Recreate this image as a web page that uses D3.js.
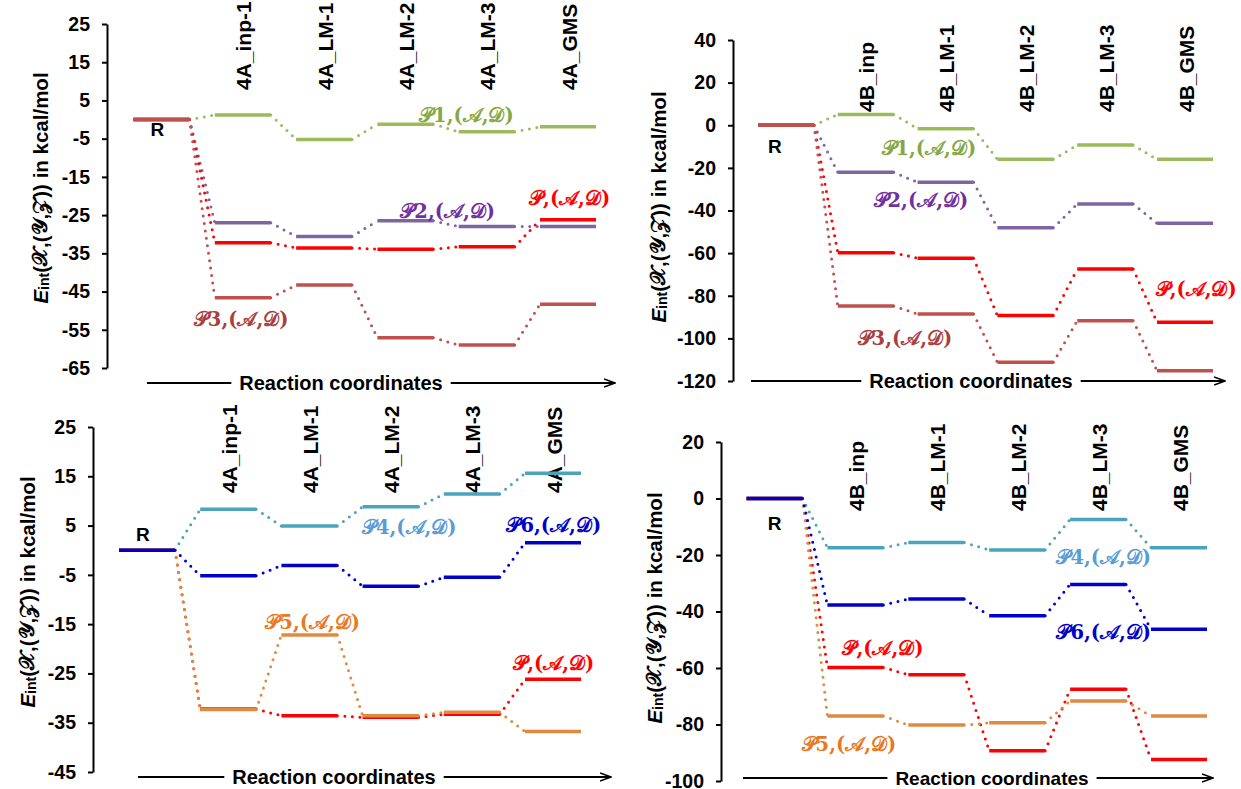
<!DOCTYPE html>
<html>
<head>
<meta charset="utf-8">
<script src="https://cdn.jsdelivr.net/npm/d3@7"></script>
<style>
  body { margin: 0; background: #fff; }
  text { font-family: "Liberation Sans", Arial, sans-serif; }
</style>
</head>
<body>
<div id="viz"></div>
<script>
// Energy level diagrams, four panels

// categories along the reaction coordinate (R is the reference level at 0)
const cats4A = ["4A_inp-1", "4A_LM-1", "4A_LM-2", "4A_LM-3", "4A_GMS"];
const cats4B = ["4B_inp", "4B_LM-1", "4B_LM-2", "4B_LM-3", "4B_GMS"];

// y tick values
const ticksTopA = [25, 15, 5, -5, -15, -25, -35, -45, -55, -65];
const ticksTopB = [40, 20, 0, -20, -40, -60, -80, -100, -120];
const ticksBotA = [25, 15, 5, -5, -15, -25, -35, -45];
const ticksBotB = [20, 0, -20, -40, -60, -80, -100];

// E_int values (kcal/mol), one per category
const p1_4A = [1.2, -5.2, -1.2, -3.2, -1.9];
const p2_4A = [-27.0, -30.6, -26.5, -28.0, -28.0];
const p_4A  = [-32.2, -33.6, -33.9, -33.3, -26.2];
const p3_4A = [-46.6, -43.3, -57.1, -59.0, -48.3];
const p4_4A = [8.3, 4.9, 8.8, 11.4, 15.6];
const p5_4A = [-32.3, -17.2, -33.6, -32.9, -36.8];
const p6_4A = [-5.2, -3.1, -7.3, -5.5, 1.5];

const p1_4B = [5.1, -1.6, -16.0, -9.3, -16.0];
const p2_4B = [-22.1, -26.8, -48.1, -37.0, -46.0];
const p_4B  = [-59.8, -62.4, -89.3, -67.5, -92.4];
const p3_4B = [-84.8, -88.6, -111.2, -91.7, -115.2];
const p4_4B = [-17.4, -15.6, -18.2, -7.4, -17.4];
const p5_4B = [-77.0, -80.2, -79.4, -71.7, -77.0];
const p6_4B = [-37.7, -35.6, -41.5, -30.4, -46.3];

// series names
const nP  = "P";
const nP1 = "P1";
const nP2 = "P2";
const nP3 = "P3";
const nP4 = "P4";
const nP5 = "P5";
const nP6 = "P6";

// colours: [line, label]
const colors = {
    P1: ["#9BBB59", "#84A845"],
    P2: ["#8064A2", "#7030A0"],
    P:  ["#FF0000", "#FF0000"],
    P3: ["#C0504D", "#A8403D"],
    P4: ["#4BA3BC", "#5B9BD5"],
    P5: ["#DE8A40", "#E8791E"],
    P6: ["#0000CC", "#0000CC"]
};

// panel layout
const panels = [
    { cats: cats4A, ticks: ticksTopA, axisX: 107, yRange: [368, 24], xRange: [161.5, 568], catY: 90,
      titleX: 40, titleY: 188, arrowY: 383, arrowX: [147, 615], rcX: 341, rcSize: 20, rY: [-0.05, -2.7],
      series: [[nP1, p1_4A, 3.75, 1.2], [nP2, p2_4A, 3.52, -23.9], [nP, p_4A, 5.02, -20.5], [nP3, p3_4A, 0.98, -52.2]] },
    { cats: cats4B, ticks: ticksTopB, axisX: 733, yRange: [381, 40], xRange: [786, 1185], catY: 112,
      titleX: 658, titleY: 207, arrowY: 381, arrowX: [751, 1225], rcX: 971, rcSize: 20, rY: [-0.14, -10.2],
      series: [[nP1, p1_4B, 1.79, -10.7], [nP2, p2_4B, 1.69, -35.1], [nP, p_4B, 5.14, -76.8], [nP3, p3_4B, 1.49, -99.8]] },
    { cats: cats4A, ticks: ticksBotA, axisX: 93, yRange: [772, 427], xRange: [147, 553], catY: 493,
      titleX: 27, titleY: 592, arrowY: 777, arrowX: [138, 611], rcX: 334, rcSize: 20, rY: [-0.05, 3.1],
      series: [[nP4, p4_4A, 3.23, 4.7], [nP, p_4A, 5.01, -22.9], [nP5, p5_4A, 2.04, -14.6], [nP6, p6_4A, 5.01, 5.1]] },
    { cats: cats4B, ticks: ticksBotB, axisX: 721, yRange: [781, 442], xRange: [774.5, 1179], catY: 511,
      titleX: 654, titleY: 608, arrowY: 778, arrowX: [743, 1213], rcX: 992, rcSize: 19, rY: [0, -9],
      series: [[nP4, p4_4B, 4.07, -20.7], [nP, p_4B, 1.34, -52.9], [nP5, p5_4B, 0.92, -86.9], [nP6, p6_4B, 4.07, -47.3]] }
];

const halfBar = 28;

const svg = d3.select("#viz")
    .append("svg")
    .attr("width", 1241)
    .attr("height", 789)
    .style("display", "block");

// arrow head marker
svg.append("defs").append("marker")
    .attr("id", "arrow")
    .attr("viewBox", "0 0 12 10")
    .attr("refX", 11).attr("refY", 5)
    .attr("markerWidth", 12).attr("markerHeight", 10)
    .attr("markerUnits", "userSpaceOnUse")
    .attr("orient", "auto")
    .append("path")
    .attr("d", "M0,1 L11,5 L0,9")
    .attr("fill", "none")
    .attr("stroke", "#000")
    .attr("stroke-width", 1.6);

function scriptLabel(g, name, color) {
    // e.g. P1,(A,D) with script letters
    const t = g.append("text")
        .attr("text-anchor", "middle")
        .attr("dominant-baseline", "central")
        .attr("font-size", 19.5)
        .attr("font-weight", "bold")
        .attr("fill", color)
        .style("font-family", "'DejaVu Serif', 'DejaVu Sans', serif");
    t.append("tspan").text("\u{1D4AB}");
    t.append("tspan").text(name.slice(1) + ",(");
    t.append("tspan").text("\u{1D49C}");
    t.append("tspan").text(",");
    t.append("tspan").text("\u{1D49F}");
    t.append("tspan").text(")");
    return t;
}

panels.forEach(p => {
    const g = svg.append("g");
    const x = d3.scaleLinear().domain([0, 5]).range(p.xRange);
    const y = d3.scaleLinear().domain([p.ticks[p.ticks.length - 1], p.ticks[0]]).range(p.yRange);

    // y axis
    const ax = g.append("g")
        .attr("transform", `translate(${p.axisX},0)`)
        .call(d3.axisLeft(y).tickValues(p.ticks).tickSize(5).tickSizeOuter(0).tickPadding(12)
            .tickFormat(d => String(d)));
    ax.select(".domain").attr("stroke-width", 2);
    ax.selectAll(".tick line").attr("stroke-width", 2);
    ax.selectAll(".tick text")
        .attr("font-size", 19.5)
        .attr("font-weight", "bold")
        .attr("fill", "#000")
        .style("font-family", "'Liberation Sans', Arial, sans-serif");

    // y title
    const title = g.append("text")
        .attr("transform", `translate(${p.titleX},${p.titleY}) rotate(-90)`)
        .attr("text-anchor", "middle")
        .attr("dominant-baseline", "central")
        .attr("font-size", 20.5)
        .attr("font-weight", "bold");
    title.append("tspan").attr("font-style", "italic").text("E");
    title.append("tspan").attr("font-size", 14).attr("dy", 4).text("int");
    title.append("tspan").attr("dy", -4).text("(");
    title.append("tspan").style("font-family", "'DejaVu Serif', serif").text("\u{1D4B3}");
    title.append("tspan").text(",(");
    title.append("tspan").style("font-family", "'DejaVu Serif', serif").text("\u{1D4B4}");
    title.append("tspan").text(",");
    title.append("tspan").style("font-family", "'DejaVu Serif', serif").text("\u{1D4B5}");
    title.append("tspan").text(")) in kcal/mol");

    // category labels (rotated)
    p.cats.forEach((c, i) => {
        g.append("text")
            .attr("transform", `translate(${x(i + 1) + 1},${p.catY}) rotate(-90)`)
            .attr("dominant-baseline", "central")
            .attr("font-size", 21)
            .attr("font-weight", "bold")
            .text(c);
    });

    // reaction coordinate arrow
    g.append("line")
        .attr("x1", p.arrowX[0]).attr("x2", p.arrowX[1])
        .attr("y1", p.arrowY).attr("y2", p.arrowY)
        .attr("stroke", "#000")
        .attr("stroke-width", 2)
        .attr("marker-end", "url(#arrow)");
    const rc = g.append("text")
        .attr("x", p.rcX).attr("y", p.arrowY)
        .attr("text-anchor", "middle")
        .attr("dominant-baseline", "central")
        .attr("font-size", p.rcSize)
        .attr("font-weight", "bold")
        .text("Reaction coordinates");
    const bb = rc.node().getBBox();
    g.insert("rect", () => rc.node())
        .attr("x", bb.x - 8).attr("y", bb.y)
        .attr("width", bb.width + 16).attr("height", bb.height)
        .attr("fill", "#fff");

    // level lines and dotted connectors
    p.series.forEach(([name, vals]) => {
        const col = colors[name][0];
        const levels = [0].concat(vals);
        const sg = g.append("g");
        for (let i = 0; i < levels.length - 1; i++) {
            sg.append("line")
                .attr("x1", x(i) + halfBar).attr("y1", y(levels[i]))
                .attr("x2", x(i + 1) - halfBar).attr("y2", y(levels[i + 1]))
                .attr("stroke", col)
                .attr("stroke-width", 3)
                .attr("stroke-linecap", "round")
                .attr("stroke-dasharray", "0 7.5");
        }
        sg.selectAll("line.level")
            .data(levels)
            .enter()
            .append("line")
            .attr("class", "level")
            .attr("x1", (d, i) => x(i) - halfBar)
            .attr("x2", (d, i) => x(i) + halfBar)
            .attr("y1", d => y(d))
            .attr("y2", d => y(d))
            .attr("stroke", col)
            .attr("stroke-width", 3.5);
    });

    // series labels
    p.series.forEach(([name, vals, li, lv]) => {
        scriptLabel(g, name, colors[name][1])
            .attr("x", x(li))
            .attr("y", y(lv));
    });

    // R label
    g.append("text")
        .attr("x", x(p.rY[0]))
        .attr("y", y(p.rY[1]))
        .attr("text-anchor", "middle")
        .attr("dominant-baseline", "central")
        .attr("font-size", 19)
        .attr("font-weight", "bold")
        .text("R");
});
</script>
</body>
</html>
